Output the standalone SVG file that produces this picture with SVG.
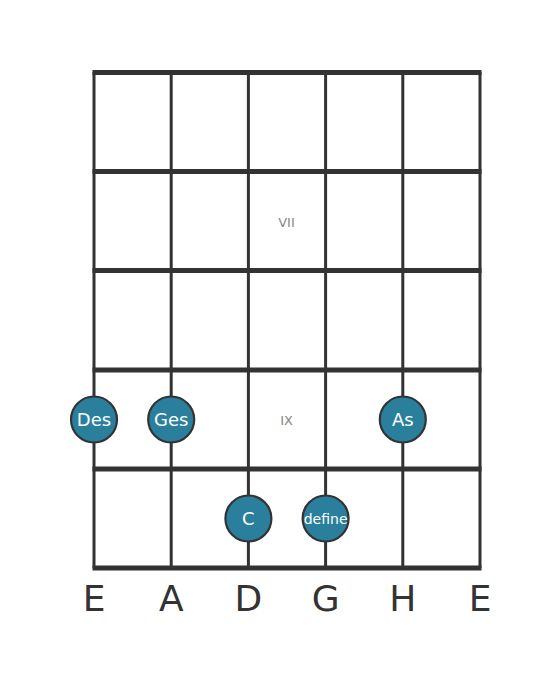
<svg xmlns="http://www.w3.org/2000/svg" width="560" height="682" viewBox="0 0 560 682">
<style>
.fret{stroke:#333;stroke-width:5}
.str{stroke:#333;stroke-width:3}
.dot circle{fill:#2a7f9c;stroke:#333;stroke-width:2.2}
.dot text{fill:#fff;font-family:"DejaVu Sans",sans-serif;font-size:18px;text-anchor:middle;dominant-baseline:central}
.pos{fill:#888;font-family:"DejaVu Sans",sans-serif;font-size:13px;text-anchor:middle;dominant-baseline:central}
.lbl{fill:#333;font-family:"DejaVu Sans",sans-serif;font-size:36px;text-anchor:middle}
</style>
<rect width="560" height="682" fill="#fff"/>
<g id="strings">
<line class="str" x1="94" y1="72" x2="94" y2="568"/>
<line class="str" x1="171.2" y1="72" x2="171.2" y2="568"/>
<line class="str" x1="248.4" y1="72" x2="248.4" y2="568"/>
<line class="str" x1="325.6" y1="72" x2="325.6" y2="568"/>
<line class="str" x1="402.8" y1="72" x2="402.8" y2="568"/>
<line class="str" x1="480" y1="72" x2="480" y2="568"/>
</g>
<g id="frets">
<line class="fret" x1="92.5" y1="72.5" x2="481.5" y2="72.5"/>
<line class="fret" x1="92.5" y1="171.5" x2="481.5" y2="171.5"/>
<line class="fret" x1="92.5" y1="270.5" x2="481.5" y2="270.5"/>
<line class="fret" x1="92.5" y1="370" x2="481.5" y2="370"/>
<line class="fret" x1="92.5" y1="469" x2="481.5" y2="469"/>
<line class="fret" x1="92.5" y1="568" x2="481.5" y2="568"/>
</g>
<text class="pos" x="286.5" y="222">VII</text>
<text class="pos" x="286.5" y="420">IX</text>
<g id="n-des" class="dot"><circle cx="94" cy="419.5" r="23"/><text x="94" y="419.5">Des</text></g>
<g id="n-ges" class="dot"><circle cx="171.2" cy="419.5" r="23"/><text x="171.2" y="419.5">Ges</text></g>
<g id="n-as" class="dot"><circle cx="402.8" cy="419.5" r="23"/><text x="402.8" y="419.5">As</text></g>
<g id="n-c" class="dot"><circle cx="248.4" cy="518.5" r="23"/><text x="248.4" y="518.5">C</text></g>
<g id="n-define" class="dot"><circle cx="325.6" cy="518.5" r="23"/><text x="325.6" y="518.5" style="font-size:14px">define</text></g>
<g id="labels">
<text class="lbl" x="94" y="611">E</text>
<text class="lbl" x="171.2" y="611">A</text>
<text class="lbl" x="248.4" y="611">D</text>
<text class="lbl" x="325.6" y="611">G</text>
<text class="lbl" x="402.8" y="611">H</text>
<text class="lbl" x="480" y="611">E</text>
</g>
</svg>
